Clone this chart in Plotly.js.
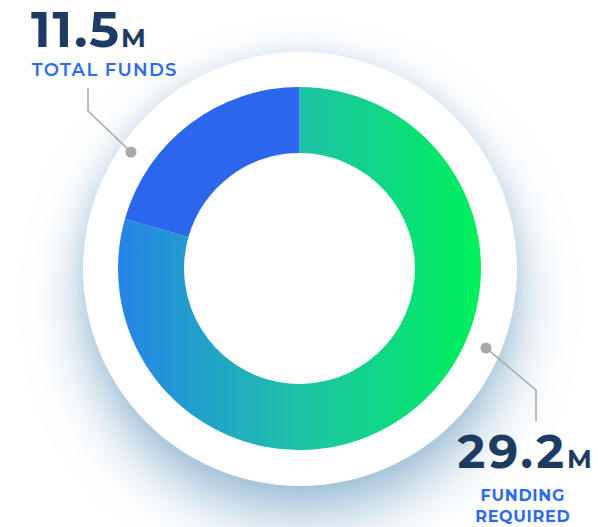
<!DOCTYPE html>
<html>
<head>
<meta charset="utf-8">
<script src="https://cdn.plot.ly/plotly-3.0.1.min.js"></script>
<style>
  html, body { margin: 0; padding: 0; background: #ffffff; }
  #wrap { position: relative; width: 598px; height: 527px; overflow: hidden; background: #ffffff; }
  #halo { position: absolute; left: 83px; top: 52px; width: 434px; height: 434px; border-radius: 50%;
          background: #ffffff; box-shadow: 0 32px 55px rgba(70, 135, 180, 0.5), 0 0 26px rgba(120, 155, 190, 0.22); }
  #chart { position: absolute; left: 0; top: 0; width: 598px; height: 527px; }
</style>
</head>
<body>
<div id="wrap">
  <div id="halo"></div>
  <div id="chart"></div>
</div>
<script>
// Values shown in the callouts
const totalFunds = 11.5;        // M
const fundingRequired = 29.2;   // M
// Share of the ring covered by each slice, read off the arc angles (percent)
const sliceLabels = ['Funding required', 'Total funds'];
const sliceShares = [79.4, 20.6];
const calloutNames = ['TOTAL FUNDS', 'FUNDING<br>REQUIRED'];

const W = 598, H = 527;
const px = x => x / W;
const py = y => 1 - y / H;

const navy = '#1e3c63';
const blue = '#2d6ce8';
const grey = '#a9a9ad';
const ringBase = '#14c99a';

const trace = {
  type: 'pie',
  labels: sliceLabels,
  values: sliceShares,
  sort: false,
  direction: 'clockwise',
  rotation: 0,
  hole: 0.636,
  textinfo: 'none',
  hoverinfo: 'none',
  showlegend: false,
  marker: { colors: [ringBase, '#2b67ea'], line: { width: 0 } },
  domain: { x: [px(118), px(481)], y: [py(450), py(87)] }
};

const line = { color: grey, width: 1.6 };
const shapes = [
  { type: 'path', xref: 'paper', yref: 'paper',
    path: `M ${px(88)} ${py(88)} L ${px(88)} ${py(111)} L ${px(131)} ${py(152)}`, line: line },
  { type: 'circle', xref: 'paper', yref: 'paper', x0: px(125.5), x1: px(136.5), y0: py(157.5), y1: py(146.5),
    fillcolor: grey, line: { width: 0 } },
  { type: 'path', xref: 'paper', yref: 'paper',
    path: `M ${px(486)} ${py(348)} L ${px(536)} ${py(390)} L ${px(536)} ${py(421)}`, line: line },
  { type: 'circle', xref: 'paper', yref: 'paper', x0: px(480.5), x1: px(491.5), y0: py(353.5), y1: py(342.5),
    fillcolor: grey, line: { width: 0 } }
];

const font = 'Montserrat, "Inter", "Noto Sans", sans-serif';
const annotations = [
  { xref: 'paper', yref: 'paper', x: px(34), y: py(-3), xanchor: 'left', yanchor: 'top', showarrow: false,
    text: `<b>${totalFunds}<span style="font-size:26px">M</span></b>`,
    font: { family: font, size: 50, color: navy } },
  { xref: 'paper', yref: 'paper', x: px(37), y: py(57), xanchor: 'left', yanchor: 'top', showarrow: false,
    text: calloutNames[0], font: { family: font, size: 18, color: blue, weight: 600 } },
  { xref: 'paper', yref: 'paper', x: px(463), y: py(421), xanchor: 'left', yanchor: 'top', showarrow: false,
    text: `<b>${fundingRequired}<span style="font-size:26px">M</span></b>`,
    font: { family: font, size: 47, color: navy } },
  { xref: 'paper', yref: 'paper', x: px(523), y: py(484), xanchor: 'center', yanchor: 'top', showarrow: false,
    text: calloutNames[1], align: 'center',
    font: { family: font, size: 16, color: blue, weight: 700 } }
];

const layout = {
  width: W, height: H,
  margin: { l: 0, r: 0, t: 0, b: 0 },
  paper_bgcolor: 'rgba(0,0,0,0)',
  plot_bgcolor: 'rgba(0,0,0,0)',
  shapes: shapes,
  annotations: annotations
};

Plotly.newPlot('chart', [trace], layout, { staticPlot: true, displayModeBar: false }).then(gd => {
  const svg = gd.querySelector('svg.main-svg');
  const ns = 'http://www.w3.org/2000/svg';
  let defs = svg.querySelector('defs');
  if (!defs) { defs = document.createElementNS(ns, 'defs'); svg.insertBefore(defs, svg.firstChild); }
  const grad = document.createElementNS(ns, 'linearGradient');
  grad.setAttribute('id', 'ringGrad');
  grad.setAttribute('x1', '0'); grad.setAttribute('y1', '0');
  grad.setAttribute('x2', '1'); grad.setAttribute('y2', '0');
  [['0', '#2683e8'], ['0.5', '#1cc3a8'], ['1', '#00f05a']].forEach(([o, c]) => {
    const s = document.createElementNS(ns, 'stop');
    s.setAttribute('offset', o); s.setAttribute('stop-color', c);
    grad.appendChild(s);
  });
  defs.appendChild(grad);
  gd.querySelectorAll('g.slice path.surface').forEach(p => {
    const f = (p.style.fill || '').replace(/\s/g, '');
    if (f === 'rgb(20,201,154)') p.style.fill = 'url(#ringGrad)';
  });

  // letter spacing to match the wider display face of the reference
  const spacing = [2, 1.3, 3, 0.7];
  gd.querySelectorAll('g.annotation text.annotation-text').forEach((t, i) => {
    if (spacing[i] !== undefined) t.style.letterSpacing = spacing[i] + 'px';
  });
});
</script>
</body>
</html>
